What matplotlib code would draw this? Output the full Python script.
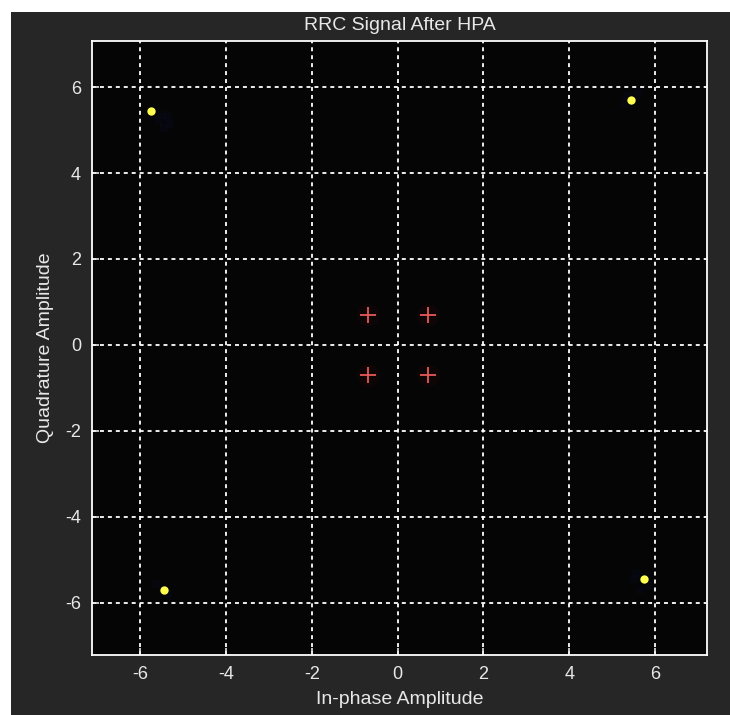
import matplotlib.pyplot as plt
from matplotlib.patches import Rectangle

plt.rcParams['axes.unicode_minus'] = False

# constellation points
outer_i = [-5.75, 5.45, -5.45, 5.75]
outer_q = [5.45, 5.70, -5.70, -5.45]
inner_i = [-0.70, 0.70, -0.70, 0.70]
inner_q = [0.70, 0.70, -0.70, -0.70]

# faint bluish smear next to the outer points
smear_i = [-5.55, -5.45, -5.30, -5.50, -5.35, 5.30, 5.35, 5.60, -5.60, -5.35, 5.55, 5.65, 5.85, 5.50]
smear_q = [5.20, 5.05, 5.15, 5.35, 5.30, 5.60, 5.80, 5.85, -5.55, -5.80, -5.30, -5.70, -5.60, -5.45]

ticks = [-6, -4, -2, 0, 2, 4, 6]
font = ['Liberation Sans Narrow', 'Liberation Sans', 'DejaVu Sans']
fg = '#e8e8e8'

fig = plt.figure(figsize=(7.3, 7.15), dpi=100, facecolor='white')
fig.patches.append(Rectangle((11 / 730, 0), 1, 703 / 715, transform=fig.transFigure,
                             facecolor='#262626', edgecolor='none', zorder=-10))

ax = fig.add_axes([92 / 730, 60 / 715, 615 / 730, 614 / 715])
ax.set_facecolor('#050505')

ax.scatter(smear_i, smear_q, s=30, c='#10103a', alpha=0.18, marker='s', linewidths=0, zorder=2)
ax.scatter(inner_i, inner_q, s=260, c='#ff3030', alpha=0.04, marker='o', linewidths=0, zorder=2)
ax.plot(inner_i, inner_q, ls='none', marker='+', ms=12, mew=1.3, color='#e85858', zorder=3)
ax.plot(outer_i, outer_q, ls='none', marker='o', ms=6, mew=0, color='#ffff50', zorder=3)

ax.set_xlim(-7.12, 7.21)
ax.set_ylim(-7.21, 7.07)
ax.set_xticks(ticks)
ax.set_yticks(ticks)
ax.grid(True, color='white', linestyle=(0, (2.2, 2.2)), linewidth=1.3)
ax.set_axisbelow(True)
for s in ax.spines.values():
    s.set_color('white')
    s.set_linewidth(1.3)
ax.tick_params(colors=fg, direction='in', length=5, width=1.2, labelsize=13,
               top=False, right=False, pad=8)
for lab in ax.get_xticklabels() + ax.get_yticklabels():
    lab.set_family(font)

ax.set_title('RRC Signal After HPA', color=fg, fontsize=14, family=font, pad=8)
ax.set_xlabel('In-phase Amplitude', color=fg, fontsize=14, family=font, labelpad=6)
ax.set_ylabel('Quadrature Amplitude', color=fg, fontsize=14, family=font, labelpad=8)

fig.savefig('out.png', dpi=100, facecolor=fig.get_facecolor())
